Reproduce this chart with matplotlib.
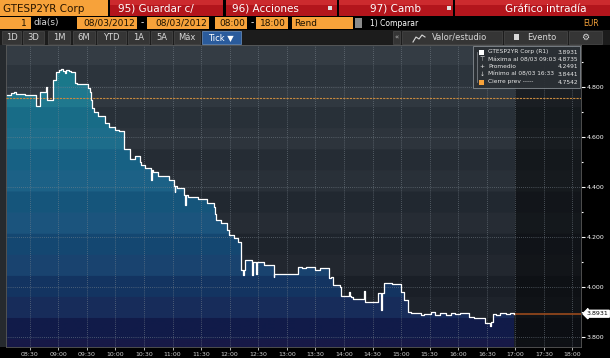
import numpy as np
import matplotlib
matplotlib.use('Agg')
import matplotlib.pyplot as plt
from matplotlib.patches import Rectangle

# tick data (time of change, yield)
times = ['08:06', '08:10', '08:13', '08:16', '08:25', '08:36', '08:41', '08:47', '08:48', '08:54',
         '08:58', '09:01', '09:03', '09:05', '09:07', '09:08', '09:11', '09:13', '09:17', '09:20',
         '09:31', '09:33', '09:34', '09:35', '09:37', '09:42', '09:49', '09:53', '09:59', '10:04',
         '10:09', '10:15', '10:20', '10:26', '10:27', '10:31', '10:37', '10:38', '10:39', '10:45',
         '10:56', '11:01', '11:02', '11:03', '11:05', '11:12', '11:13', '11:14', '11:16', '11:27',
         '11:36', '11:44', '11:45', '11:46', '11:51', '11:57', '11:59', '12:04', '12:09', '12:12',
         '12:14', '12:15', '12:16', '12:23', '12:24', '12:28', '12:29', '12:36', '12:46', '12:47',
         '13:12', '13:16', '13:20', '13:30', '13:35', '13:44', '13:46', '13:48', '13:49', '13:56',
         '13:57', '14:05', '14:06', '14:07', '14:10', '14:21', '14:22', '14:36', '14:39', '14:40',
         '14:42', '14:50', '15:00', '15:03', '15:07', '15:10', '15:21', '15:24', '15:31', '15:36',
         '15:41', '15:47', '15:52', '15:57', '16:02', '16:11', '16:17', '16:28', '16:33', '16:34',
         '16:37', '16:40', '16:44', '16:50', '16:54', '16:59']
prices = [4.768, 4.776, 4.780, 4.772, 4.768, 4.724, 4.780, 4.800, 4.748, 4.828,
          4.860, 4.868, 4.8735, 4.864, 4.856, 4.868, 4.864, 4.860, 4.816, 4.812,
          4.796, 4.780, 4.748, 4.716, 4.700, 4.684, 4.656, 4.640, 4.628, 4.624,
          4.552, 4.512, 4.524, 4.500, 4.488, 4.476, 4.428, 4.468, 4.460, 4.444,
          4.428, 4.404, 4.380, 4.404, 4.396, 4.368, 4.328, 4.368, 4.360, 4.352,
          4.336, 4.320, 4.290, 4.268, 4.256, 4.228, 4.208, 4.196, 4.180, 4.068,
          4.048, 4.068, 4.108, 4.048, 4.100, 4.052, 4.100, 4.088, 4.040, 4.052,
          4.080, 4.076, 4.080, 4.068, 4.076, 4.036, 4.040, 4.020, 4.008, 4.000,
          3.964, 3.980, 3.964, 3.960, 3.952, 3.984, 3.940, 3.976, 3.908, 3.976,
          4.016, 4.012, 3.980, 3.948, 3.900, 3.896, 3.888, 3.892, 3.900, 3.888,
          3.896, 3.888, 3.896, 3.892, 3.896, 3.880, 3.876, 3.856, 3.8441, 3.860,
          3.8931, 3.889, 3.895, 3.890, 3.896, 3.8931]

prev_close = 4.7542
legend_labels = ['GTESP2YR Corp (R1)', 'Máxima al 08/03 09:03', 'Promedio',
                 'Mínimo al 08/03 16:33', 'Cierre prev -----']
legend_values = ['3.8931', '4.8735', '4.2491', '3.8441', '4.7542']

x_ticks = ['08:30', '09:00', '09:30', '10:00', '10:30', '11:00', '11:30', '12:00', '12:30', '13:00',
           '13:30', '14:00', '14:30', '15:00', '15:30', '16:00', '16:30', '17:00', '17:30', '18:00']
y_ticks = [3.8, 4.0, 4.2, 4.4, 4.6, 4.8]
y_minor = [3.9, 4.1, 4.3, 4.5, 4.7, 4.9]


def hours(s):
    h, m = s.split(':')
    return int(h) + int(m) / 60


xs = np.array([hours(t) for t in times])
ys = np.array(prices)
x0, x1 = hours('08:05'), hours('18:09')
y0, y1 = 3.76, 4.968

ORANGE = '#f7a23a'
RED = '#b3151c'

fig = plt.figure(figsize=(6.1, 3.58), dpi=100)
fig.patch.set_facecolor('black')

# header / toolbar drawn in pixel coords
hdr = fig.add_axes([0, 0, 1, 1])
hdr.set_xlim(0, 610)
hdr.set_ylim(358, 0)
hdr.axis('off')


def box(x, y, w, h, color, **kw):
    hdr.add_patch(Rectangle((x, y), w, h, fc=color, ec=kw.pop('ec', 'none'), **kw))


def label(x, y, s, color='white', size=6.5, ha='left', **kw):
    hdr.text(x, y, s, color=color, fontsize=size, ha=ha, va='center', **kw)


# row 1
box(0, 0, 108, 16, ORANGE)
label(3, 8.5, 'GTESP2YR Corp', color='#2a1600', size=7.5)
for bx, bw, txt, tx in [(110, 113, '95) Guardar c/', 118), (226, 111, '96) Acciones', 232),
                        (339, 114, '97) Camb', 370), (455, 155, 'Gráfico intradía', 505)]:
    box(bx, 0, bw, 16, RED)
    box(bx, 0, bw, 5, '#cc2a2e')
    label(tx, 8.5, txt, size=7.5)
box(328, 6, 4, 4, '#e0e0e0')
box(447, 6, 4, 4, '#e0e0e0')

# row 2
box(0, 17, 31, 12, ORANGE)
label(27, 23, '1', color='#1a1000', size=6.5, ha='right')
label(33, 23, 'día(s)', color='#d8d8d8', size=6.5)
for bx, bw, txt in [(77, 60, '08/03/2012'), (147, 62, '08/03/2012'),
                    (215, 32, '08:00'), (256, 32, '18:00')]:
    box(bx, 17, bw, 12, ORANGE)
    label(bx + bw - 2, 23, txt, color='#1a1000', size=6.5, ha='right')
label(142, 23, '-', size=6.5, ha='center')
label(252, 23, '-', size=6.5, ha='center')
box(292, 17, 61, 12, ORANGE)
label(294, 23, 'Rend', color='#1a1000', size=6.5)
box(355, 18, 7, 10, '#8a8a8a')
label(370, 23, '1) Comparar', size=5.5)
label(599, 23, 'EUR', color=ORANGE, size=5.5, ha='right')

# row 3
box(0, 30, 610, 15, '#1c1c1c')
for bx, bw, txt in [(2, 19, '1D'), (23, 21, '3D'), (48, 22, '1M'), (73, 22, '6M'),
                    (97, 29, 'YTD'), (128, 21, '1A'), (151, 21, '5A'), (174, 26, 'Máx')]:
    box(bx, 31, bw, 13, '#353535', ec='#4a4a4a', lw=0.5)
    label(bx + bw / 2, 37.5, txt, color='#d8d8d8', size=6, ha='center')
box(202, 31, 39, 13, '#2a5b9c', ec='#6f95c4', lw=0.5)
label(221, 37.5, 'Tick ▼', size=6, ha='center')
box(393, 31, 7, 13, '#353535', ec='#4a4a4a', lw=0.5)
label(396.5, 37.5, '«', color='#bbbbbb', size=5, ha='center')
for bx, bw in [(402, 100), (504, 63), (569, 33)]:
    box(bx, 31, bw, 13, '#353535', ec='#4a4a4a', lw=0.5)
hdr.plot([413, 416, 419, 422, 425], [42, 37, 39, 35, 37], color='#d8d8d8', lw=0.8)
label(432, 37.5, 'Valor/estudio', color='#d8d8d8', size=6)
box(514, 34, 5, 6, '#d8d8d8')
label(527, 37.5, 'Evento', color='#d8d8d8', size=6)
label(585, 37.5, '⚙', color='#d8d8d8', size=6.5, ha='center')
box(0, 45, 6, 302, '#262a2e')

# price chart
ax = fig.add_axes([6 / 610, 11 / 358, 575 / 610, 302 / 358])
rows = np.linspace(y1, y0, 302)
band = 0.084


def banded(stop_v, stop_c, alt):
    idx = np.floor((y1 - rows) / band)
    vc = y1 - (idx + 0.5) * band
    cols = np.stack([np.interp(vc, stop_v, [c[k] for c in stop_c]) for k in range(3)], axis=1)
    cols += np.where(idx % 2 == 0, alt, -alt)[:, None]
    return np.clip(cols / 255, 0, 1)[:, None, :]


bg = banded([3.76, 4.2, 4.968], [(24, 28, 36), (34, 40, 48), (50, 58, 66)], 3)
fill = banded([3.76, 3.9, 4.0, 4.2, 4.5, 4.87],
              [(20, 22, 68), (20, 38, 85), (22, 55, 100), (24, 78, 120), (26, 100, 135), (30, 125, 142)], 3)

ax.imshow(bg, extent=[x0, x1, y0, y1], aspect='auto', zorder=0)
poly = ax.fill_between(xs, ys, y0, step='post', facecolor='none', edgecolor='none')
im = ax.imshow(fill, extent=[x0, x1, y0, y1], aspect='auto', zorder=1)
im.set_clip_path(poly.get_paths()[0], transform=ax.transData)
ax.axvspan(hours('17:00'), x1, color='black', alpha=0.45, lw=0, zorder=1.5)

for t in x_ticks:
    ax.axvline(hours(t), color='#7d8790', lw=0.5, ls=(0, (1, 2)), zorder=2)
for v in y_ticks:
    ax.axhline(v, color='#7d8790', lw=0.5, ls=(0, (1, 2)), zorder=2)

ax.axhline(prev_close, color='#c98a3e', lw=0.8, ls=(0, (2, 1)), zorder=3)
ax.plot([xs[-1], x1], [ys[-1], ys[-1]], color='#9a4a1c', lw=1.2, zorder=3)
ax.plot(xs, ys, drawstyle='steps-post', color='white', lw=0.9, zorder=4)

ax.set_xlim(x0, x1)
ax.set_ylim(y0, y1)
ax.set_xticks([hours(t) for t in x_ticks])
ax.set_xticklabels(x_ticks)
ax.tick_params(axis='x', colors='#d0d0d0', labelsize=4.5, length=2, width=0.6, pad=1.5)
ax.yaxis.tick_right()
ax.set_yticks(y_ticks)
ax.set_yticklabels([f'{v:.3f}' for v in y_ticks])
ax.set_yticks(y_minor, minor=True)
ax.tick_params(axis='y', which='major', colors='white', labelsize=4.5, length=3, width=0.8, pad=1)
ax.tick_params(axis='y', which='minor', colors='white', length=1.2, width=0.8)
for s in ax.spines.values():
    s.set_color('#5a5a5a')
    s.set_linewidth(0.6)

ax.annotate(f'{ys[-1]:.4f}', xy=(1, ys[-1]), xycoords=('axes fraction', 'data'),
            xytext=(4, 0), textcoords='offset points', fontsize=4.5, color='black', va='center',
            bbox=dict(boxstyle='larrow,pad=0.15', fc='white', ec='white'), annotation_clip=False,
            zorder=6)

# legend panel
ov = fig.add_axes([0, 0, 1, 1], zorder=10)
ov.set_xlim(0, 610)
ov.set_ylim(358, 0)
ov.axis('off')
ov.add_patch(Rectangle((473, 46), 107, 42, fc='#2b3035', ec='#8a9096', lw=0.6, alpha=0.95))
ov.plot([477, 477], [52, 82], color='#8a9096', lw=0.5)
ov.add_patch(Rectangle((479, 49.5), 5, 5, fc='white', ec='none'))
ov.add_patch(Rectangle((479, 79.5), 5, 5, fc=ORANGE, ec='none'))
for yy, g in [(59.5, '⊤'), (67, '+'), (74.5, '↓')]:
    ov.text(482, yy, g, color='#e8e8e8', fontsize=4.2, ha='center', va='center')
for i, (lab, val) in enumerate(zip(legend_labels, legend_values)):
    yy = 52 + i * 7.5
    ov.text(488, yy, lab, color='#e8e8e8', fontsize=4.2, va='center')
    ov.text(578, yy, val, color='#e8e8e8', fontsize=4.2, va='center', ha='right')

fig.savefig('out.png', dpi=100, facecolor=fig.get_facecolor())
